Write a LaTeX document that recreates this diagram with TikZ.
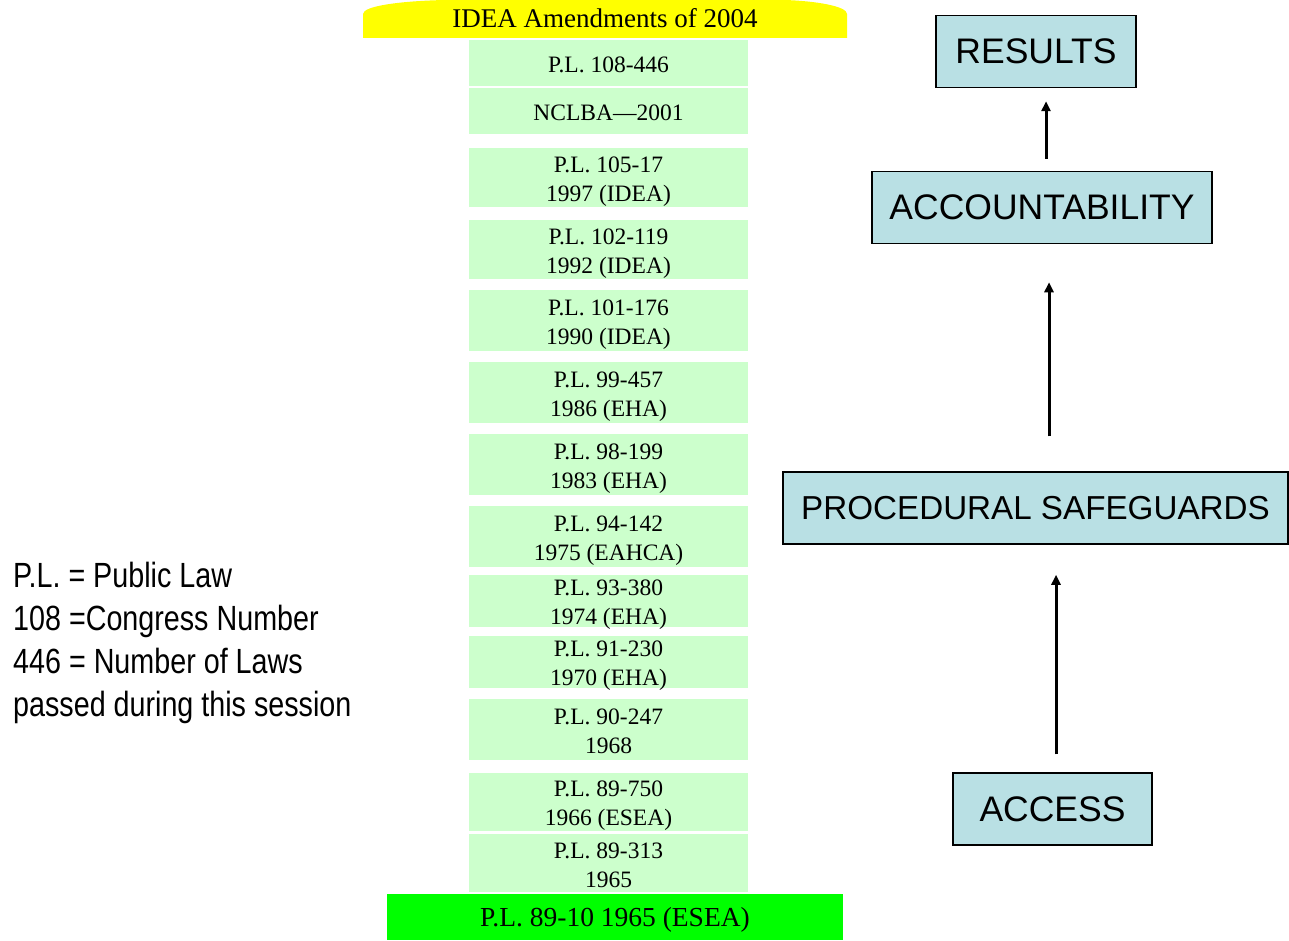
\documentclass[tikz,border=0pt]{standalone}
\usepackage{fontspec}
\setmainfont{Liberation Serif}
\newfontfamily\boxfont{Liberation Sans}
\newfontfamily\narrowfont[FakeStretch=0.82]{Liberation Sans}
\usetikzlibrary{arrows.meta,calc}
\definecolor{lawgreen}{HTML}{CCFFCC}
\definecolor{eseagreen}{HTML}{00FF00}
\definecolor{ideayellow}{HTML}{FFFF00}
\definecolor{stageblue}{HTML}{B9E0E4}
\tikzstyle{lawbox}=[fill=lawgreen,inner sep=0pt,minimum width=279pt]
\tikzstyle{lawtext}=[inner sep=0pt,align=center,font=\fontsize{23.5}{29}\selectfont]
\tikzstyle{stagebox}=[draw=black,line width=1.5pt,fill=stageblue,inner sep=0pt,minimum height=72pt,font=\boxfont\fontsize{35.5}{40}\selectfont]
\tikzstyle{bigarrow}=[line width=3pt,-{Triangle[length=10pt,width=9pt]}]
\begin{document}
\begin{tikzpicture}[x=1pt,y=-1pt]
\useasboundingbox (0,0) rectangle (1289,941);

% the amendments on top
\fill[ideayellow] (363,38) -- (363,14) .. controls (363,6) and (400,1) .. (445,0)
  -- (785,0) .. controls (815,1) and (847,6) .. (847,14) -- (847,38) -- cycle;
\node[font=\fontsize{27}{32}\selectfont] (idea) at (605,18.5) {IDEA Amendments of 2004};

% the laws, newest first
\foreach \name/\top/\bot/\drop/\txt in {
  pl108/40/86/2/{P.L. 108-446},
  nclba/88/134/2/{NCLBA—2001},
  pl105/148/207/4/{P.L. 105-17\\1997 (IDEA)},
  pl102/220/279/4/{P.L. 102-119\\1992 (IDEA)},
  pl101/290/351/4/{P.L. 101-176\\1990 (IDEA)},
  pl99/362/423/4/{P.L. 99-457\\1986 (EHA)},
  pl98/434/495/4/{P.L. 98-199\\1983 (EHA)},
  pl94/506/567/4/{P.L. 94-142\\1975 (EAHCA)},
  pl93/575/627/4/{P.L. 93-380\\1974 (EHA)},
  pl91/636/688/4/{P.L. 91-230\\1970 (EHA)},
  pl90/699/760/2/{P.L. 90-247\\1968},
  pl89b/773/831/4/{P.L. 89-750\\1966 (ESEA)},
  pl89a/834/892/2/{P.L. 89-313\\1965}} {
  \node[lawbox,minimum height={\bot-\top}] (\name) at (608.5,{(\top+\bot)/2}) {};
  \node[lawtext] (\name-txt) at ([yshift=-\drop pt]\name.center) {\txt};
}
\node[fill=eseagreen,minimum width=456pt,minimum height=46pt,inner sep=0pt] (esea) at (615,917) {};
\node[font=\fontsize{27.5}{32}\selectfont] (esea-txt) at ([yshift=-3pt]esea.center) {P.L. 89-10 1965 (ESEA)};

% legend
\node[anchor=west,align=left,inner sep=0pt,font=\narrowfont\fontsize{35}{43}\selectfont] (legend) at (13,643)
  {P.L. = Public Law\\108 =Congress Number\\446 = Number of Laws\\passed during this session};

% the stages
\node[stagebox,minimum width=200pt] (results) at (1036,51.5) {RESULTS};
\node[stagebox,minimum width=340pt] (account) at (1042,207.5) {ACCOUNTABILITY};
\node[stagebox,minimum width=505pt,font=\boxfont\fontsize{33.2}{40}\selectfont] (safeguards) at (1035.5,508) {PROCEDURAL SAFEGUARDS};
\node[stagebox,minimum width=199pt] (access) at (1052.5,809) {ACCESS};

\draw[bigarrow,shorten <=18pt,shorten >=30pt] ([xshift=3.5pt]access.north) -- ([xshift=3.5pt]access.north |- safeguards.south);
\draw[bigarrow,shorten <=35pt,shorten >=38pt] ([xshift=13.5pt]safeguards.north) -- ([xshift=13.5pt]safeguards.north |- account.south);
\draw[bigarrow,shorten <=12pt,shorten >=13pt] ([xshift=4pt]account.north) -- ([xshift=4pt]account.north |- results.south);
\end{tikzpicture}
\end{document}
